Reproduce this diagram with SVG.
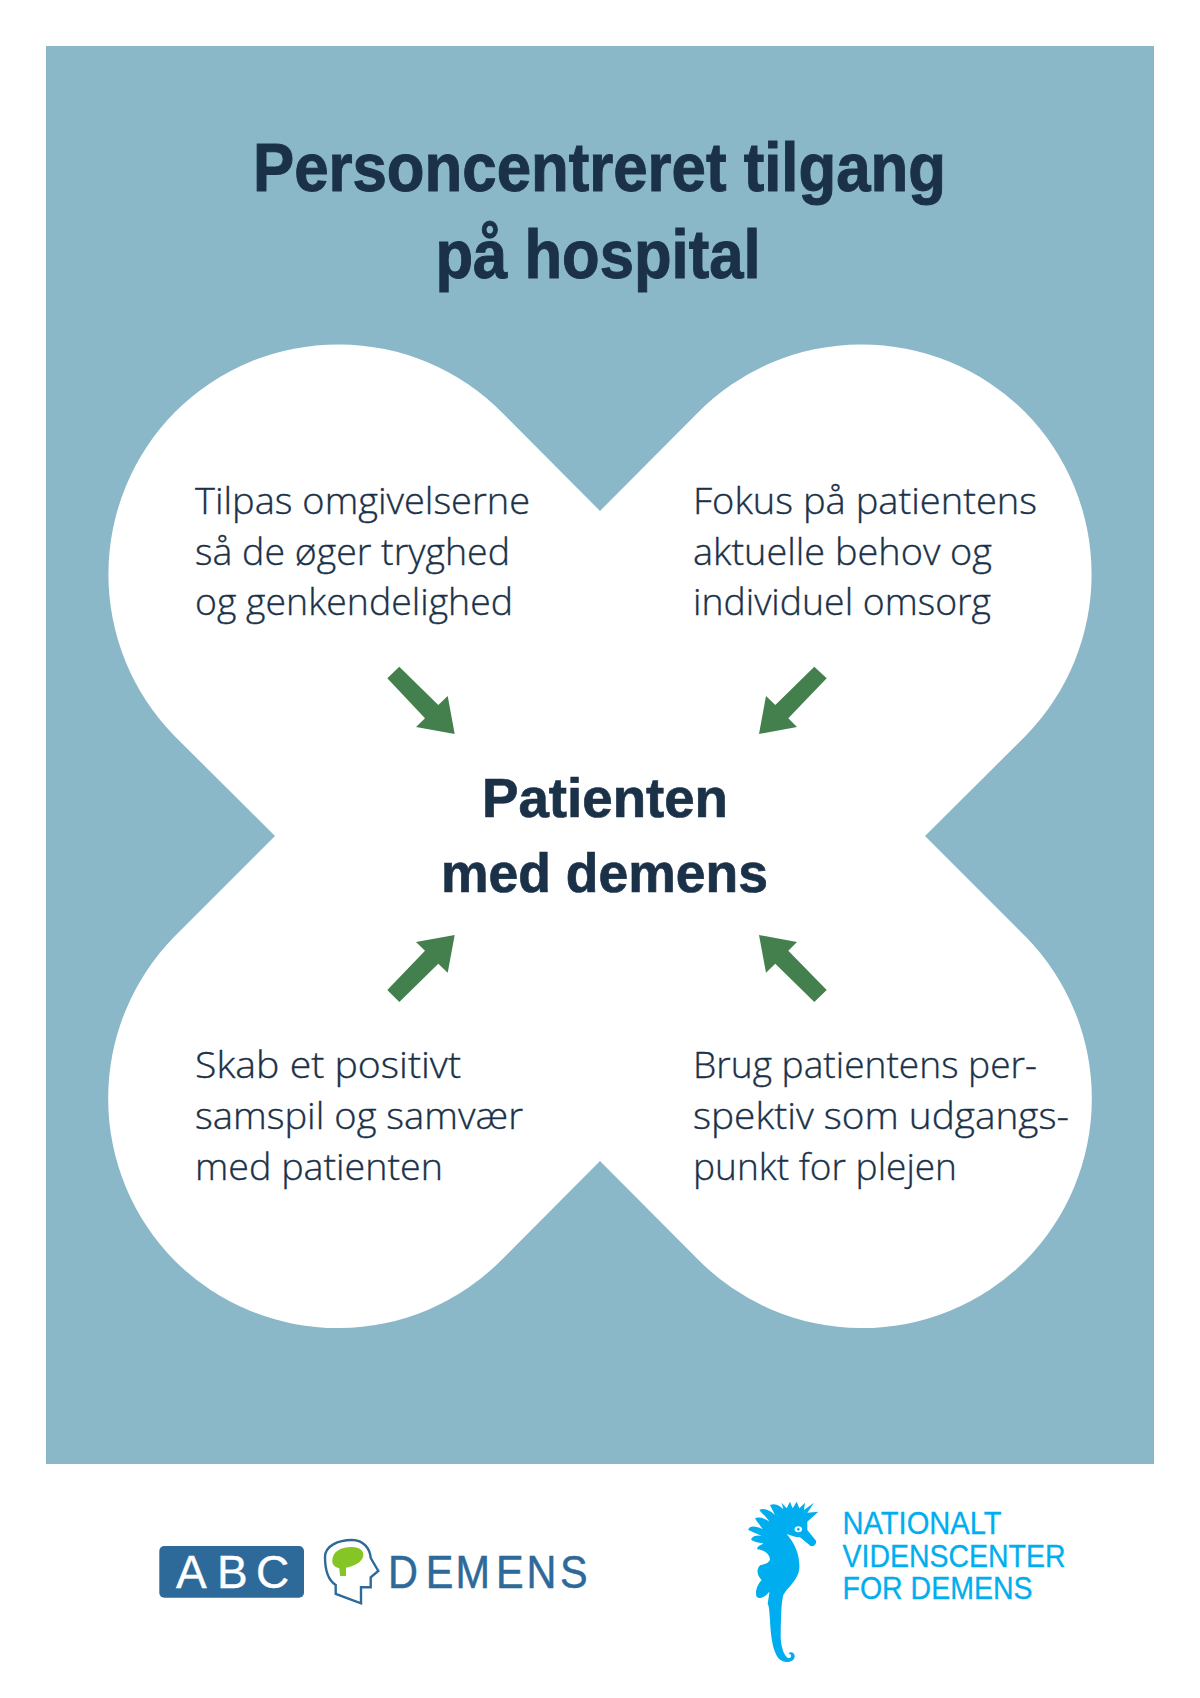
<svg xmlns="http://www.w3.org/2000/svg" width="1200" height="1698" viewBox="0 0 1200 1698">
<style>
.t{font-family:"Liberation Sans",Arial,sans-serif;fill:#1a3148;stroke:#1a3148;font-weight:700;text-anchor:start}
.title{font-size:68px;stroke-width:1px}
.center{font-size:55px;stroke-width:.7px}
.body{font-family:"Open Sans","Liberation Sans",sans-serif;font-size:37px;font-weight:300;fill:#1a3148;stroke:#1a3148;stroke-width:.35px}
.arrow{fill:#44804d}
.nv{font-family:"Liberation Sans",Arial,sans-serif;font-size:31.5px;fill:#00aeef;stroke:#00aeef;stroke-width:.3px}
.abc{font-family:"Liberation Sans",Arial,sans-serif;font-size:46px}
</style>
<rect width="1200" height="1698" fill="#fff"/>
<rect id="panel" x="46" y="46" width="1108" height="1418" fill="#8bb8c8"/>
<g id="title"><text class="t title" x="253" y="191" textLength="693" lengthAdjust="spacingAndGlyphs">Personcentreret tilgang</text><text class="t title" x="435.5" y="278" textLength="325" lengthAdjust="spacingAndGlyphs">på hospital</text></g>
<g id="clover"><path fill="#fff" d="M600 511 L503 413.5 A231 231 0 0 0 175 412 A231 231 0 0 0 174 735.5 L275 836 L174 937 A231 231 0 0 0 175 1261 A231 231 0 0 0 503 1258.5 L600 1161 L697 1258.5 A231 231 0 0 0 1025 1261 A231 231 0 0 0 1026 937 L925 836 L1026 735.5 A231 231 0 0 0 1025 412 A231 231 0 0 0 697 413.5 Z"/></g>
<g id="center"><text class="t center" x="482" y="817" textLength="246" lengthAdjust="spacingAndGlyphs">Patienten</text><text class="t center" x="441" y="892" textLength="327" lengthAdjust="spacingAndGlyphs">med demens</text></g>
<g id="n1"><text class="body" x="195" y="513.5" textLength="335" lengthAdjust="spacingAndGlyphs">Tilpas omgivelserne</text><text class="body" x="195" y="564.5" textLength="315" lengthAdjust="spacingAndGlyphs">så de øger tryghed</text><text class="body" x="195" y="615" textLength="318" lengthAdjust="spacingAndGlyphs">og genkendelighed</text></g>
<g id="n2"><text class="body" x="693" y="513.5" textLength="344" lengthAdjust="spacingAndGlyphs">Fokus på patientens</text><text class="body" x="693" y="564.5" textLength="299" lengthAdjust="spacingAndGlyphs">aktuelle behov og</text><text class="body" x="693" y="615" textLength="298" lengthAdjust="spacingAndGlyphs">individuel omsorg</text></g>
<g id="n3"><text class="body" x="195" y="1078" textLength="266" lengthAdjust="spacingAndGlyphs">Skab et positivt</text><text class="body" x="195" y="1129" textLength="328" lengthAdjust="spacingAndGlyphs">samspil og samvær</text><text class="body" x="195" y="1180" textLength="248" lengthAdjust="spacingAndGlyphs">med patienten</text></g>
<g id="n4"><text class="body" x="693" y="1078" textLength="344" lengthAdjust="spacingAndGlyphs">Brug patientens per-</text><text class="body" x="693" y="1129" textLength="376" lengthAdjust="spacingAndGlyphs">spektiv som udgangs-</text><text class="body" x="693" y="1180" textLength="264" lengthAdjust="spacingAndGlyphs">punkt for plejen</text></g>
<g id="connectors">
<polygon class="arrow" points="387.3,678.3 399.3,666.7 438.3,705 447.7,696 454.7,734 416,727 425,718.3"/>
<polygon class="arrow" points="826.7,678.3 814.3,666.7 775.3,705 766,696 759,734 797,727 788.3,718.3"/>
<polygon class="arrow" points="387.3,990 399.3,1002 438.3,963.7 447.7,972.7 454.7,935 416,942 425,950.7"/>
<polygon class="arrow" points="826.7,990 814.3,1002 775.3,963.7 766,972.7 759,935 797,942 788.3,950.7"/>
</g>
<g id="logo-abc">
<rect x="159.3" y="1546" width="144.7" height="51.7" rx="5" fill="#2d6a99"/>
<text class="abc" x="176 217 256" y="1588.3" fill="#fff" stroke="#fff" stroke-width=".4">ABC</text>
<path d="M335.7 1594 L335.7 1585 C328 1580 325 1570 325 1557 C325 1546 338 1540 352 1540 C364 1540 370 1549 370.7 1558 L378.3 1571 L370.7 1577.3 L370.7 1587.3 L361 1587.3 L361 1603.3 Z" fill="#fff" stroke="#2d6a99" stroke-width="2.4"/>
<path d="M332.3 1561 C332.3 1552 340 1547 351.7 1547 C360 1547 364 1551 363.3 1556 C362 1562 355 1566 346 1567.7 L346 1576 L340 1576 L339.3 1568.3 C335 1567 332.3 1565 332.3 1561 Z" fill="#86c526"/>
<text class="abc" transform="translate(388 1588) scale(.9 1)" x="0 42 75 120 154 191" y="0" fill="#2d6a99" stroke="#2d6a99" stroke-width=".5">DEMENS</text>
</g>
<g id="logo-nvd">
<g transform="translate(720 1480) scale(.33333)">
<path fill="#00aeef" d="M150 75 C165 68 180 76 190 88 L185 68 L200 85 L210 65 L218 85 L230 65 L238 85 L255 68 L252 90 L282 68 L262 98 L295 95 L262 125 L262 150 L288 182 C290 195 280 200 272 198 L240 172 C225 172 210 165 200 162 C225 190 240 225 238 265 C235 300 205 320 190 345 C183 370 183 420 182 470 C183 505 195 535 208 534 C218 532 212 518 205 522 C208 513 225 515 224 530 C222 548 190 552 175 535 C158 510 152 470 150 420 C148 395 148 380 143 372 C145 355 148 345 148 335 C135 350 120 360 110 350 C103 335 115 310 125 300 C110 285 108 265 122 255 C135 252 145 250 150 240 C150 225 135 210 112 208 C108 200 125 195 130 190 C115 188 100 186 93 178 C100 165 115 165 125 168 C110 160 95 155 85 150 C85 138 105 135 128 148 C120 135 110 125 105 115 C115 108 135 115 148 125 C140 110 125 100 118 90 C130 82 150 90 165 105 C160 95 155 85 150 75 Z"/>
<ellipse cx="235" cy="148" rx="11" ry="9" fill="#fff"/><circle cx="235" cy="148" r="4" fill="#00aeef"/>
</g>
<text class="nv" x="842.5" y="1534.3" textLength="159" lengthAdjust="spacingAndGlyphs">NATIONALT</text>
<text class="nv" x="842.5" y="1566.7" textLength="223" lengthAdjust="spacingAndGlyphs">VIDENSCENTER</text>
<text class="nv" x="842.5" y="1599" textLength="190" lengthAdjust="spacingAndGlyphs">FOR DEMENS</text>
</g>
</svg>
